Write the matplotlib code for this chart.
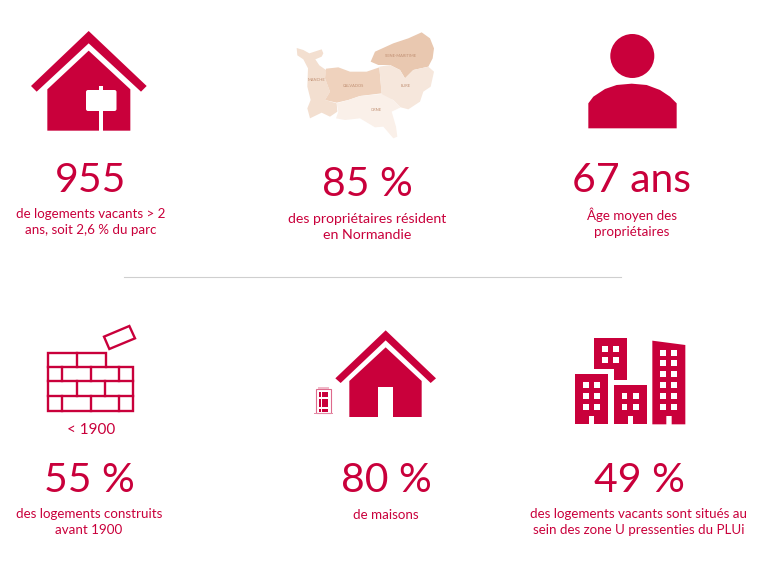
#!/usr/bin/env python3
"""Infographic: vacant housing key figures."""

import matplotlib
matplotlib.use("Agg")
import matplotlib.pyplot as plt
from matplotlib.patches import Circle, FancyBboxPatch, Polygon, Rectangle

RED = "#C9003B"

big_labels = ["955", "85 %", "67 ans", "55 %", "80 %", "49 %"]
captions = [
    "de logements vacants > 2\nans, soit 2,6 % du parc",
    "des propriétaires résident\nen Normandie",
    "Âge moyen des\npropriétaires",
    "des logements construits\navant 1900",
    "de maisons",
    "des logements vacants sont situés au\nsein des zone U pressenties du PLUi",
]
big_x = [91, 367, 632, 89, 386, 639]
big_y = [181, 184, 181, 481, 481, 480]
caption_y = [222.5, 227, 222.5, 522, 515, 522]
caption_size = [9.6, 10.2, 9.6, 9.6, 9.6, 9.6]
map_names = ["SEINE-MARITIME", "CALVADOS", "MANCHE", "EURE", "ORNE"]

fig = plt.figure(figsize=(7.57, 5.68), dpi=100)
ax = fig.add_axes([0, 0, 1, 1])
ax.set_xlim(0, 757)
ax.set_ylim(568, 0)
ax.axis("off")
plt.rcParams["font.family"] = ["Lato", "DejaVu Sans"]


def zoomed(points, x0, y0):
    return [(x0 + x / 3, y0 + y / 3) for x, y in points]


def poly(points, x0, y0, color=RED, **kw):
    ax.add_patch(Polygon(zoomed(points, x0, y0), closed=True, fc=color, ec="none", **kw))


def rect(x1, y1, x2, y2, x0, y0, color="white"):
    ax.add_patch(Rectangle((x0 + x1 / 3, y0 + y1 / 3), (x2 - x1) / 3, (y2 - y1) / 3,
                           fc=color, ec="none"))


# house with sign
poly([(206, 33), (380, 198), (363, 215), (206, 70), (50, 215), (33, 198)], 20, 20)
poly([(206, 92), (331, 208), (331, 332), (82, 332), (82, 208)], 20, 20)
ax.add_patch(FancyBboxPatch((86, 90), 30.5, 21, boxstyle="round,pad=0,rounding_size=2",
                            fc="white", ec="none"))
rect(238, 198, 250, 332, 20, 20)

# map of Normandie
MAP_X, MAP_Y = 280, 20
poly([(50, 84), (70, 90), (88, 100), (125, 88), (130, 100), (125, 110), (106, 118), (118, 136),
      (138, 150), (135, 175), (150, 215), (135, 240), (170, 250), (172, 275), (150, 290),
      (125, 278), (90, 295), (82, 265), (92, 240), (82, 200), (84, 145), (70, 118), (52, 106)],
     MAP_X, MAP_Y, color="#F3DFD0")
poly([(138, 146), (175, 142), (210, 155), (260, 155), (298, 142), (305, 220), (240, 228),
      (205, 240), (170, 248), (135, 240), (150, 215), (135, 175)],
     MAP_X, MAP_Y, color="#EFD2BD")
poly([(272, 125), (285, 95), (340, 70), (385, 55), (425, 37), (450, 55), (462, 85), (458, 115),
      (445, 140), (400, 150), (375, 175), (360, 150), (330, 135), (295, 135)],
     MAP_X, MAP_Y, color="#E9C8B0")
poly([(298, 140), (330, 135), (360, 150), (375, 175), (400, 150), (445, 140), (462, 155),
      (452, 200), (430, 215), (420, 245), (385, 268), (362, 262), (340, 240), (305, 228)],
     MAP_X, MAP_Y, color="#F6E7DC")
poly([(170, 250), (205, 240), (240, 228), (305, 222), (340, 240), (362, 262), (335, 275),
      (348, 320), (352, 350), (340, 355), (310, 320), (285, 322), (240, 295), (195, 300),
      (168, 295), (175, 275)],
     MAP_X, MAP_Y, color="#FAF0E9")
for name, x, y in zip(map_names, [364, 220, 110, 378, 290], [108, 198, 181, 198, 271]):
    ax.text(MAP_X + x / 3, MAP_Y + y / 3, name, fontsize=2.9, color="#C08F72",
            ha="center", va="center")

# person
ax.add_patch(Circle((632.3, 56), 22, fc=RED, ec="none"))
poly([(25, 310), (25, 235), (40, 215), (75, 192), (110, 180), (155, 176), (200, 180), (240, 195),
      (270, 215), (290, 235), (290, 310)], 580, 25)

# divider
ax.plot([124, 621], [277, 277], color="#CFCFCF", lw=0.8)

# brick wall
LW = 1.7
wall = zoomed([(55, 98), (228, 98), (228, 141), (310, 141), (310, 273), (55, 273)], 30, 320)
ax.add_patch(Polygon(wall, closed=True, fc="none", ec=RED, lw=LW, joinstyle="miter"))
for y, x1, x2 in [(141, 55, 228), (184, 55, 310), (228, 55, 310)]:
    ax.plot([30 + x1 / 3, 30 + x2 / 3], [320 + y / 3] * 2, color=RED, lw=LW)
for y1, y2, xs in [(98, 141, [140]), (141, 184, [96, 182, 268]),
                   (184, 228, [140, 225]), (228, 273, [96, 182, 268])]:
    for x in xs:
        ax.plot([30 + x / 3] * 2, [320 + y1 / 3, 320 + y2 / 3], color=RED, lw=LW)
ax.add_patch(Polygon(zoomed([(222, 50), (298, 18), (315, 55), (238, 87)], 30, 320), closed=True,
                     fc="none", ec=RED, lw=LW))
ax.text(91, 430.5, "< 1900", fontsize=11, color=RED, ha="center", va="center")

# house with phone box
poly([(257, 16), (408, 160), (392, 174), (257, 46), (122, 174), (106, 160)], 300, 325)
poly([(257, 67), (365, 168), (365, 276), (148, 276), (148, 168)], 300, 325)
rect(235, 186, 279, 276, 300, 325)
PX, PY = 308, 380
ax.add_patch(Polygon(zoomed([(25, 28), (68, 28), (68, 100), (25, 100)], PX, PY), closed=True,
                     fc="white", ec="#DE6A8C", lw=0.8))
rect(30, 20, 62, 28, PX, PY, color="#F0B8C8")
rect(17, 99, 75, 103, PX, PY, color="#E38AA5")
for x in [33, 43, 52]:
    for y1, y2 in [(36, 52), (56, 82), (86, 96)]:
        rect(x, y1, x + 7, y2, PX, PY, color=RED)

# buildings
BX, BY = 565, 330
poly([(87, 23), (187, 23), (187, 149), (146, 149), (146, 116), (87, 116)], BX, BY)
poly([(29, 132), (129, 132), (129, 283), (87, 283), (87, 258), (71, 258), (71, 283), (29, 283)],
     BX, BY)
poly([(146, 165), (245, 165), (245, 283), (204, 283), (204, 258), (188, 258), (188, 283),
      (146, 283)], BX, BY)
poly([(262, 32), (361, 45), (361, 283), (320, 283), (320, 258), (304, 258), (304, 283),
      (262, 283)], BX, BY)
for x in [112, 145]:
    for y in [49, 82]:
        rect(x, y, x + 17, y + 17, BX, BY)
for x in [54, 87]:
    for y in [157, 190, 223]:
        rect(x, y, x + 17, y + 17, BX, BY)
for x in [170, 204]:
    for y in [190, 223]:
        rect(x, y, x + 17, y + 17, BX, BY)
for x in [286, 319]:
    for y in [60, 90, 124, 157, 190, 223]:
        rect(x, y, x + 17, y + 17, BX, BY)

# figures and captions
for label, cap, x, y, cy, size in zip(big_labels, captions, big_x, big_y, caption_y, caption_size):
    ax.text(x, y, label, fontsize=29.5, color=RED, ha="center", va="center")
    ax.text(x, cy, cap, fontsize=size, color=RED, ha="center", va="center", linespacing=1.4)

fig.savefig("out.png", dpi=100)
